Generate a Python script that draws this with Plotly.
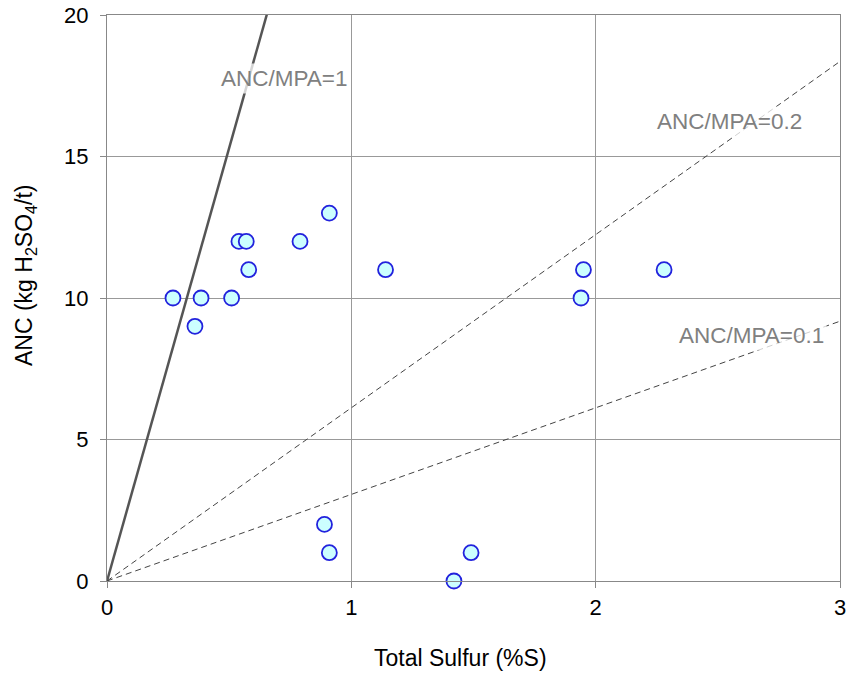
import plotly.graph_objects as go

# Sample data
total_sulfur = [0.27, 0.36, 0.385, 0.51, 0.54, 0.57, 0.58, 0.79, 0.91, 1.14,
                1.94, 1.95, 2.28, 0.89, 0.91, 1.42, 1.49]
anc = [10, 9, 10, 10, 12, 12, 11, 12, 13, 11,
       10, 11, 11, 2, 1, 0, 1]

# Reference lines ANC/MPA ratios (MPA = 30.6 x %S)
ratios = [1, 0.2, 0.1]
ratio_labels = ["ANC/MPA=1", "ANC/MPA=0.2", "ANC/MPA=0.1"]
mpa_factor = 30.6
line_x = [0, 3]

x_ticks = [0, 1, 2, 3]
y_ticks = [0, 5, 10, 15, 20]

x_title = "Total Sulfur (%S)"
y_title = "ANC (kg H<sub>2</sub>SO<sub>4</sub>/t)"

FONT = "Liberation Sans, Arial, sans-serif"

fig = go.Figure()

for r in ratios:
    solid = (r == 1)
    fig.add_trace(go.Scatter(
        x=line_x, y=[r * mpa_factor * v for v in line_x],
        mode="lines",
        line=dict(color="#555555" if solid else "#444444",
                  width=2.5 if solid else 1,
                  dash="solid" if solid else "6px,4px"),
        hoverinfo="skip", showlegend=False,
    ))

fig.add_trace(go.Scatter(
    x=total_sulfur, y=anc, mode="markers",
    marker=dict(size=15, color="#ccffff",
                line=dict(color="#2222dd", width=1.8)),
    showlegend=False, cliponaxis=False,
))

label_pos = [(0.728, 17.77), (2.546, 16.23), (2.639, 8.66)]
for (lx, ly), txt in zip(label_pos, ratio_labels):
    fig.add_annotation(
        x=lx, y=ly, text=txt, showarrow=False,
        font=dict(family=FONT, size=22.5, color="#808080"),
        bgcolor="rgba(255,255,255,0.75)", borderpad=2,
    )

# axis titles (placed as in the reference, slightly off-centre)
fig.add_annotation(
    xref="paper", yref="paper", x=0.4816, y=-0.136,
    xanchor="center", yanchor="middle", showarrow=False,
    text=x_title, font=dict(family=FONT, size=23, color="#000000"),
)
fig.add_annotation(
    xref="paper", yref="paper", x=-0.1119, y=0.5406,
    xanchor="center", yanchor="middle", showarrow=False, textangle=-90,
    text=y_title, font=dict(family=FONT, size=23, color="#000000"),
)

axis_common = dict(
    showline=True, linecolor="#888888", linewidth=1.3, mirror=True,
    showgrid=True, gridcolor="#999999", gridwidth=1,
    zeroline=False, automargin=False, ticklabeloverflow="allow",
    ticks="outside", ticklen=6, tickcolor="#888888", tickwidth=1.3,
    tickfont=dict(family=FONT, size=22, color="#000000"),
)

fig.update_xaxes(range=[0, 3], tickvals=x_ticks, **axis_common)
fig.update_yaxes(range=[0, 20], tickvals=y_ticks, ticklabelstandoff=7,
                 **axis_common)

fig.update_layout(
    width=850, height=675,
    margin=dict(l=107, r=10, t=15, b=94),
    plot_bgcolor="white", paper_bgcolor="white",
    font=dict(family=FONT),
)

fig.write_html("out.html",
               config={"displayModeBar": False},
               post_script="document.body.style.margin='0';"
                           "document.body.style.overflow='hidden';")
